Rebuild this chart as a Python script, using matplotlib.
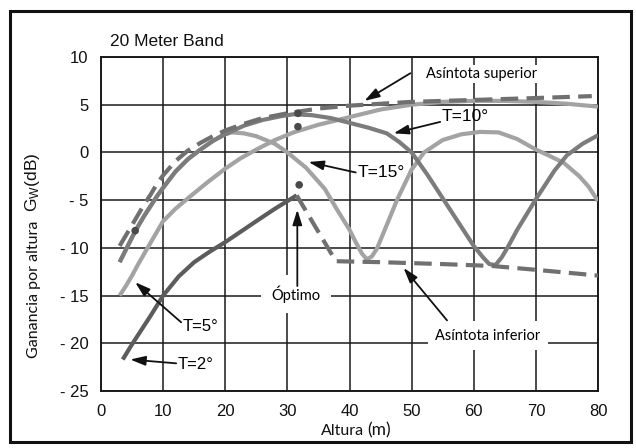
import matplotlib
matplotlib.use("Agg")
import matplotlib.pyplot as plt
from matplotlib.patches import Rectangle

plt.rcParams['font.family'] = ['Liberation Sans', 'DejaVu Sans']
plt.rcParams['mathtext.fontset'] = 'custom'
plt.rcParams['mathtext.rm'] = 'Liberation Sans'
plt.rcParams['mathtext.it'] = 'Liberation Sans:italic'

# ---------------- data ----------------
x_ticks = [0, 10, 20, 30, 40, 50, 60, 70, 80]
y_ticks = [-25, -20, -15, -10, -5, 0, 5, 10]
y_tick_labels = ['- 25', '- 20', '- 15', '- 10', '- 5', '0', '5', '10']

# upper asymptote (dashed)
h_sup = [3, 4, 5, 6, 7, 8, 9, 10, 12, 14, 16, 18, 20, 23, 26, 30, 35, 40, 45, 50, 60, 70, 79]
g_sup = [-9.8, -8.7, -7.6, -6.5, -5.4, -4.4, -3.3, -2.4, -0.9, 0.2, 1.0, 1.7, 2.3, 3.0, 3.6,
         4.1, 4.6, 4.9, 5.1, 5.3, 5.5, 5.7, 5.9]

# lower asymptote (dashed)
h_inf = [31.5, 37.8, 45, 55, 63, 70, 80]
g_inf = [-4.5, -11.4, -11.5, -11.7, -11.9, -12.3, -12.9]

# T = 2 deg
h_t2 = [3.5, 5, 6.5, 8, 10, 12.5, 15, 17.5, 20, 22.5, 25, 28, 31.5]
g_t2 = [-21.7, -20.1, -18.6, -17.1, -15.0, -13.0, -11.5, -10.4, -9.4, -8.3, -7.2, -5.9, -4.5]

# T = 5 deg
h_t5 = [3, 4, 5, 6, 7.5, 10, 12, 14, 17, 20, 22.5, 25, 28, 31, 35, 40, 45, 50, 55, 60, 65, 70, 75, 80]
g_t5 = [-15.0, -14.0, -12.9, -11.7, -10.0, -7.2, -5.9, -4.8, -3.2, -1.7, -0.6, 0.3, 1.3, 2.1,
        2.9, 3.7, 4.5, 5.0, 5.3, 5.4, 5.4, 5.3, 5.1, 4.8]

# T = 10 deg
h_t10 = [3, 4, 5, 6, 7, 8, 9, 10, 12, 14, 16, 18, 20, 23, 26, 29, 31, 34, 37, 40, 43, 46, 48,
         50, 52.5, 55, 57.5, 60, 61.5, 62.5, 63.5, 64.5, 65.5, 67, 70, 72, 73, 75, 77.5, 80]
g_t10 = [-11.5, -10.2, -8.9, -7.7, -6.6, -5.6, -4.6, -3.7, -2.0, -0.7, 0.3, 1.2, 1.9, 2.8, 3.4,
         3.8, 4.0, 3.9, 3.6, 3.1, 2.6, 2.0, 1.1, 0.0, -2.3, -4.8, -7.3, -9.8, -11.0, -11.7,
         -11.8, -11.0, -9.9, -8.1, -4.9, -2.9, -1.9, -0.3, 0.9, 1.8]

# T = 15 deg
h_t15 = [3, 4, 5, 6, 7, 8, 9, 10, 12, 14, 16, 18, 19.5, 21, 23, 25, 28, 30, 33, 36, 38, 40, 41,
         42, 42.8, 43.6, 44.4, 46, 47.7, 50, 52, 55, 58, 61, 64, 67, 70, 72, 74.5, 77, 78.5, 80]
g_t15 = [-11.5, -10.2, -8.9, -7.7, -6.6, -5.6, -4.6, -3.7, -2.0, -0.7, 0.3, 1.2, 1.8, 2.1, 2.0,
         1.7, 0.9, 0.0, -1.6, -3.8, -6.0, -8.1, -9.4, -10.6, -11.2, -10.9, -10.1, -7.6, -4.9,
         -1.8, 0.0, 1.3, 1.9, 2.15, 2.1, 1.4, 0.3, -0.3, -1.1, -2.5, -3.6, -5.1]

# marked points
dot_x = [5.5, 31.7, 31.7, 31.9]
dot_y = [-8.2, 4.1, 2.7, -3.4]

# ---------------- figure ----------------
W, H = 636, 448
fig = plt.figure(figsize=(W / 100, H / 100), dpi=100)
fig.patch.set_facecolor('white')

def fx(px):
    return px / W

def fy(py):
    return 1 - py / H

ax = fig.add_axes([fx(101), fy(391), (598 - 101) / W, (391 - 57) / H])
ax.set_xlim(0, 80)
ax.set_ylim(-25, 10)
ax.set_xticks(x_ticks)
ax.set_yticks(y_ticks)
ax.set_yticklabels(y_tick_labels)
ax.tick_params(length=0, labelsize=12, pad=9, colors='#111111')
ax.grid(True, color='#1a1a1a', lw=1.1, zorder=0)
ax.set_axisbelow(True)
for s in ax.spines.values():
    s.set_color('#1a1a1a')
    s.set_linewidth(1.4)

LW = 3.0
light = '#a3a3a3'
mid = '#7c7c7c'
dark = '#5c5c5c'
dashc = '#707070'

ax.plot(h_t15, g_t15, color=light, lw=LW, solid_capstyle='butt', zorder=3)
ax.plot(h_t5, g_t5, color=light, lw=LW, solid_capstyle='butt', zorder=3)
ax.plot(h_t10, g_t10, color=mid, lw=LW, solid_capstyle='butt', zorder=4)
ax.plot(h_t2, g_t2, color=dark, lw=LW, solid_capstyle='butt', zorder=4)
ax.plot(h_sup, g_sup, color=dashc, lw=LW, dashes=(4.2, 2.0), zorder=5)
ax.plot(h_inf, g_inf, color=dashc, lw=LW, dashes=(4.2, 2.0), zorder=5)
ax.scatter(dot_x, dot_y, s=30, color='#4a4a4a', zorder=6, edgecolors='none')

# ---------------- annotations ----------------
ann_font = ['Lato', 'DejaVu Sans']
arrow_kw = dict(arrowstyle='-|>,head_length=0.7,head_width=0.22', color='#111111', lw=1.3,
                shrinkA=0, shrinkB=0, mutation_scale=13)

def arrow(tail, head):
    ax.annotate('', xy=head, xytext=tail, arrowprops=arrow_kw, zorder=8)

ax.text(52.3, 8.2, 'Asíntota superior', fontsize=10.5, family=ann_font, ha='left', va='center',
        zorder=7, bbox=dict(boxstyle='square,pad=0.15', fc='white', ec='none'))
arrow((49.8, 8.3), (42.4, 5.4))

ax.text(54.9, 3.8, 'T=10°', fontsize=12.5, ha='left', va='center', zorder=7)
arrow((54.6, 3.2), (47.1, 2.0))

ax.text(41.3, -2.1, 'T=15°', fontsize=12.5, ha='left', va='center', zorder=7)
arrow((41.0, -2.1), (33.4, -1.0))

ax.text(31.4, -14.85, 'Óptimo', fontsize=10.5, family=ann_font, ha='center', va='center', zorder=7,
        bbox=dict(boxstyle='square,pad=0.7', fc='white', ec='none'))
arrow((31.6, -14.0), (31.6, -6.0))

ax.text(62.3, -19.2, 'Asíntota inferior', fontsize=10.5, family=ann_font, ha='center', va='center',
        zorder=7, bbox=dict(boxstyle='square,pad=0.5', fc='white', ec='none'))
arrow((55.7, -17.6), (48.7, -12.1))

ax.text(13.2, -18.2, 'T=5°', fontsize=12, ha='left', va='center', zorder=7)
arrow((12.9, -17.8), (5.5, -13.6))

ax.text(12.4, -22.2, 'T=2°', fontsize=12, ha='left', va='center', zorder=7)
arrow((12.1, -22.1), (4.7, -21.7))

# ---------------- titles / labels ----------------
fig.text(fx(110), fy(41), '20 Meter Band', fontsize=12.5, ha='left', va='center', color='#111111')

fig.text(fx(34), fy(289), 'Ganancia por altura', fontsize=11.5, family=ann_font, rotation=90,
         ha='center', va='center', color='#111111')
fig.text(fx(33), fy(182), r'G$_\mathrm{W}$(dB)', fontsize=12.5, rotation=90,
         ha='center', va='center', color='#111111')

fig.text(fx(364), fy(435), 'Altura', fontsize=11.5, family=ann_font, ha='right', va='baseline',
         color='#111111')
fig.text(fx(367), fy(435), '(m)', fontsize=12.5, family=ann_font, ha='left', va='baseline',
         color='#111111')

# outer frame
fig.add_artist(Rectangle((fx(9.5), fy(442)), (631 - 9.5) / W, (442 - 11) / H, transform=fig.transFigure,
                         fill=False, ec='#111111', lw=2.2))

fig.savefig('out.png', dpi=100, facecolor='white')
